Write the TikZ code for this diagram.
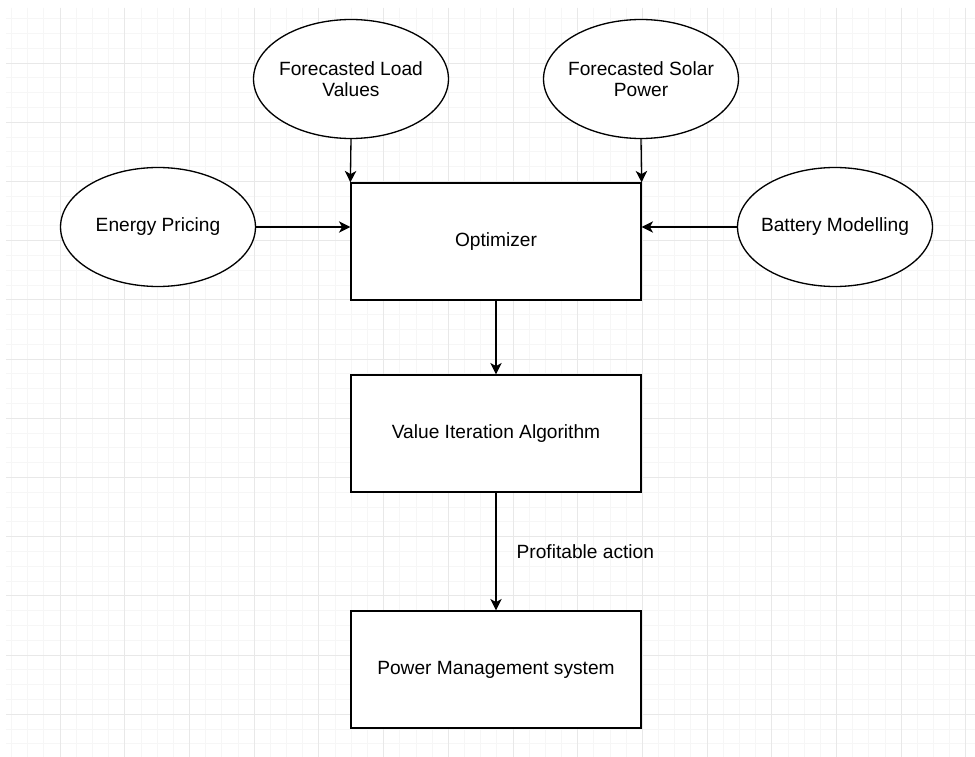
\documentclass[tikz,border=0pt]{standalone}
\usepackage{fontspec}
\setmainfont{Liberation Sans}
\usetikzlibrary{arrows.meta, positioning, shapes.geometric}

\begin{document}
\begin{tikzpicture}[x=0.02cm, y=-0.02cm, font=\fontsize{10.9}{12}\selectfont,
  box/.style={draw, line width=0.75pt, fill=white, minimum width=5.8cm, minimum height=2.34cm},
  blob/.style={draw, ellipse, line width=0.75pt, fill=white, minimum width=3.9cm, minimum height=2.38cm, align=center, inner xsep=-10pt, inner ysep=0pt},
  flow/.style={-{Stealth[length=6.5pt, width=6.5pt, inset=1.8pt]}, line width=0.75pt}]

\useasboundingbox (0,0) rectangle (975,757);
\fill[white] (0,0) rectangle (975,757);

% grid
\foreach \k in {-3,...,56}
  \draw[gray!7] ({60+16.175*\k},8) -- ({60+16.175*\k},757);
\foreach \k in {-3,...,46}
  \draw[gray!7] (6,{63+14.8*\k}) -- (975,{63+14.8*\k});
\foreach \k in {0,...,14}
  \draw[gray!18] ({60+64.7*\k},8) -- ({60+64.7*\k},757);
\foreach \k in {0,...,11}
  \draw[gray!18] (6,{63+59.2*\k}) -- (975,{63+59.2*\k});

\node [blob] (load) at (351,79) {Forecasted Load\\Values};
\node [blob] (solar) at (641,79) {Forecasted Solar\\Power};
\node [blob] (pricing) at (158,227) {Energy Pricing};
\node [blob] (battery) at (835,227) {Battery Modelling};

\node [box] (opt) at (496,241.5) {Optimizer};
\node [box] (via) at (496,433.5) {Value Iteration Algorithm};
\node [box] (pms) at (496,669.5) {Power Management system};

\draw [flow] (load.south) -- (opt.north west);
\draw [flow] (solar.south) -- (opt.north east);
\draw [flow] (pricing.east) -- (pricing.east -| opt.west);
\draw [flow] (battery.west) -- (battery.west -| opt.east);
\draw [flow] (opt) -- (via);
\draw [flow] (via) -- (pms) node [midway, right, xshift=0.4cm, inner sep=0pt] {Profitable action};
\end{tikzpicture}
\end{document}
